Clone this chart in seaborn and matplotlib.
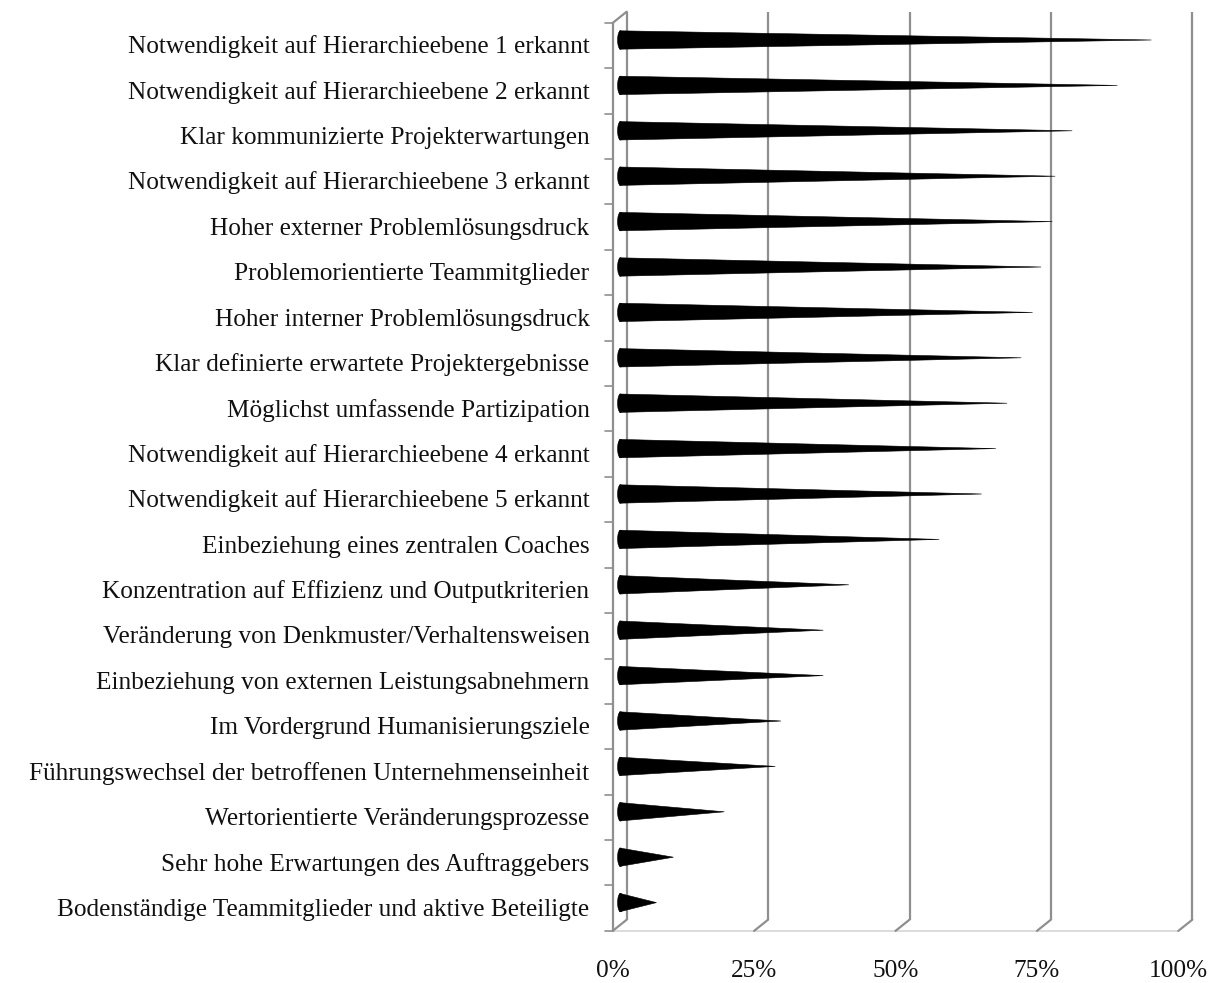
import numpy as np
import pandas as pd
import matplotlib
matplotlib.use("Agg")
import matplotlib.pyplot as plt
from matplotlib.patches import Polygon, Ellipse
import seaborn as sns

# Success factors of change projects, share of respondents (%)
factors = [
    "Notwendigkeit auf Hierarchieebene 1 erkannt",
    "Notwendigkeit auf Hierarchieebene 2 erkannt",
    "Klar kommunizierte Projekterwartungen",
    "Notwendigkeit auf Hierarchieebene 3 erkannt",
    "Hoher externer Problemlösungsdruck",
    "Problemorientierte Teammitglieder",
    "Hoher interner Problemlösungsdruck",
    "Klar definierte erwartete Projektergebnisse",
    "Möglichst umfassende Partizipation",
    "Notwendigkeit auf Hierarchieebene 4 erkannt",
    "Notwendigkeit auf Hierarchieebene 5 erkannt",
    "Einbeziehung eines zentralen Coaches",
    "Konzentration auf Effizienz und Outputkriterien",
    "Veränderung von Denkmuster/Verhaltensweisen",
    "Einbeziehung von externen Leistungsabnehmern",
    "Im Vordergrund Humanisierungsziele",
    "Führungswechsel der betroffenen Unternehmenseinheit",
    "Wertorientierte Veränderungsprozesse",
    "Sehr hohe Erwartungen des Auftraggebers",
    "Bodenständige Teammitglieder und aktive Beteiligte",
]
shares = [94, 88, 80, 77, 76.5, 74.5, 73, 71, 68.5, 66.5, 64, 56.5,
          40.5, 36, 36, 28.5, 27.5, 18.5, 9.5, 6.5]
tick_values = [0, 25, 50, 75, 100]
tick_labels = ["0%", "25%", "50%", "75%", "100%"]

df = pd.DataFrame({"Faktor": factors, "Anteil": shares})

W, H, DPI = 1218, 983, 100
sns.set_style("white")
plt.rcParams["font.family"] = ["Liberation Serif", "DejaVu Serif"]

fig = plt.figure(figsize=(W / DPI, H / DPI), dpi=DPI)
# plotting box = middle depth plane of the pseudo-3D chart (pixels)
x0_px, x1_px = 619.7, 1185.3
y0_px, y1_px = 17.3, 925.3
ax = fig.add_axes([x0_px / W, 1 - y1_px / H, (x1_px - x0_px) / W, (y1_px - y0_px) / H])

sns.barplot(data=df, x="Anteil", y="Faktor", orient="h", color="black",
            width=0.405, ax=ax, saturation=1)

n = len(factors)
ax.set_xlim(0, 100)
ax.set_ylim(n - 0.5, -0.5)
ax.set_xlabel("")
ax.set_ylabel("")
ax.set_xticks([])
ax.set_yticks([])
for s in ax.spines.values():
    s.set_visible(False)

px_x = (x1_px - x0_px) / 100.0      # pixels per percent
px_y = (y1_px - y0_px) / n          # pixels per category
DX = 7.0 / px_x                     # depth offset, horizontal
DY = 5.6 / px_y                     # depth offset, vertical

grid_col = "#8f8f8f"
lw = 1.6

# back wall gridlines with slanted floor edge
for v in tick_values:
    ax.plot([v + DX, v + DX], [-0.5 - DY, n - 0.5 - DY], color=grid_col,
            lw=lw, clip_on=False, zorder=1, solid_capstyle="butt")
    ax.plot([v + DX, v - DX], [n - 0.5 - DY, n - 0.5 + DY], color=grid_col,
            lw=lw, clip_on=False, zorder=1)

# floor front edge
ax.plot([-DX, 100 - DX], [n - 0.5 + DY, n - 0.5 + DY], color="#dcdcdc",
        lw=1.4, clip_on=False, zorder=0.9)

# front category axis with tick marks and top slant
ax.plot([-DX, -DX], [-0.5 + DY, n - 0.5 + DY], color=grid_col, lw=lw,
        clip_on=False, zorder=1)
ax.plot([-DX, DX], [-0.5 + DY, -0.5 - DY], color=grid_col, lw=lw,
        clip_on=False, zorder=1)
tick_len = 8.0 / px_x
for k in range(n + 1):
    yk = k - 0.5 + DY
    ax.plot([-DX - tick_len, -DX], [yk, yk], color=grid_col, lw=1.2,
            clip_on=False, zorder=1)

# turn each bar into a horizontal cone
bars = list(ax.patches)
for rect in bars:
    yb = rect.get_y()
    h = rect.get_height()
    w = rect.get_width()
    yc = yb + h / 2
    cone = Polygon([(0, yb), (w, yc), (0, yb + h)], closed=True,
                   facecolor="black", edgecolor="black", lw=0.4,
                   zorder=3, clip_on=False)
    ax.add_patch(cone)
    base = Ellipse((0.15, yc), width=2 * 3.0 / px_x, height=h,
                   facecolor="black", edgecolor="black", lw=0.4,
                   zorder=3, clip_on=False)
    ax.add_patch(base)
    rect.remove()

fs = 18.2
# category labels
label_x = -(x0_px - 589.5) / (x1_px - x0_px)
for i, name in enumerate(factors):
    ax.text(label_x, i + 13.3 / px_y, name, transform=ax.get_yaxis_transform(),
            ha="right", va="baseline", fontsize=fs, color="#111111",
            clip_on=False)

# value axis labels on the front edge
for v, lab in zip(tick_values, tick_labels):
    ax.text(v - DX, n - 0.5 + (977 - y1_px) / px_y, lab, ha="center",
            va="baseline", fontsize=fs, color="#111111", clip_on=False)

fig.savefig("out.png", dpi=DPI)
